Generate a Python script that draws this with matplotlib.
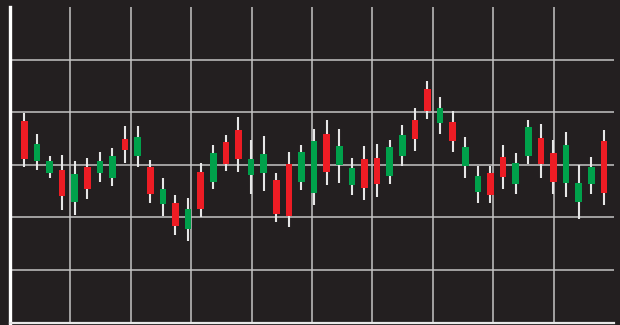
import matplotlib
matplotlib.use("Agg")
import matplotlib.pyplot as plt

# Candle data (open, high, low, close)
opens  = [3.83, 3.08, 2.85, 2.91, 2.30, 2.95, 2.85, 2.75, 3.50, 3.16,
          2.95, 2.26, 2.27, 1.78, 2.87, 2.68, 3.44, 3.66, 2.80, 2.84,
          2.71, 3.02, 2.67, 2.46, 3.59, 2.99, 2.62, 3.11, 3.13, 2.78,
          3.16, 3.85, 4.44, 3.80, 3.82, 2.97, 2.49, 2.85, 3.15, 2.63,
          3.17, 3.51, 3.23, 2.66, 2.30, 2.64, 3.45]
closes = [3.11, 3.40, 3.07, 2.41, 2.82, 2.54, 3.07, 3.17, 3.28, 3.53,
          2.45, 2.54, 1.83, 2.16, 2.16, 3.23, 3.02, 3.12, 3.11, 3.21,
          2.06, 2.03, 3.24, 3.45, 2.87, 3.36, 2.94, 2.56, 2.64, 3.33,
          3.57, 3.49, 4.02, 4.08, 3.46, 3.33, 2.78, 2.43, 2.77, 3.04,
          3.71, 3.02, 2.68, 3.37, 2.66, 2.96, 2.47]
highs  = [3.98, 3.58, 3.17, 3.18, 3.07, 3.13, 3.24, 3.32, 3.73, 3.73,
          3.10, 2.75, 2.43, 2.37, 3.03, 3.37, 3.57, 3.90, 3.47, 3.54,
          2.85, 3.25, 3.38, 3.68, 3.85, 3.68, 3.13, 3.35, 3.40, 3.47,
          3.75, 4.08, 4.59, 4.29, 4.02, 3.53, 2.98, 2.98, 3.37, 3.22,
          3.85, 3.78, 3.47, 3.62, 2.99, 3.14, 3.67]
lows   = [2.95, 2.90, 2.75, 2.14, 2.04, 2.35, 2.67, 2.59, 3.04, 2.95,
          2.28, 2.03, 1.66, 1.56, 2.00, 2.54, 2.88, 2.87, 2.45, 2.51,
          1.92, 1.81, 2.53, 2.24, 2.62, 2.66, 2.43, 2.33, 2.38, 2.63,
          2.97, 3.26, 3.87, 3.58, 3.25, 2.75, 2.28, 2.28, 2.55, 2.44,
          3.02, 2.75, 2.44, 2.39, 1.97, 2.45, 2.24]

BG = "#231f20"
RED = "#ed1c24"
GREEN = "#00a14b"
WICK = "#e6e6e6"
GRID = "#c4c4c4"

fig = plt.figure(figsize=(6.2, 3.25), dpi=100, facecolor=BG)
ax = fig.add_axes([10/620, 2.3/325, 604/620, 315.7/325])
ax.set_facecolor(BG)

x0, step = 0.2368, 0.2086
xs = [x0 + i*step for i in range(len(opens))]
colors = [GREEN if c > o else RED for o, c in zip(opens, closes)]
bottoms = [min(o, c) for o, c in zip(opens, closes)]
heights = [abs(c - o) for o, c in zip(opens, closes)]

ax.vlines(xs, lows, highs, color=WICK, linewidth=1.5, zorder=3)
ax.bar(xs, heights, bottom=bottoms, width=0.111, color=colors,
       linewidth=0, zorder=4)

ax.set_xlim(0, 10)
ax.set_ylim(0, 6)
ax.set_xticks(range(1, 10))
ax.set_yticks(range(1, 6))
ax.tick_params(length=0, labelbottom=False, labelleft=False)
ax.grid(True, color=GRID, linewidth=1.1, zorder=1)
ax.set_axisbelow(True)

for s in ("top", "right"):
    ax.spines[s].set_visible(False)
ax.spines["left"].set_color("white")
ax.spines["left"].set_linewidth(2.4)
ax.spines["bottom"].set_color("#e8e8e8")
ax.spines["bottom"].set_linewidth(1.6)

fig.savefig("out.png", dpi=100, facecolor=BG)
